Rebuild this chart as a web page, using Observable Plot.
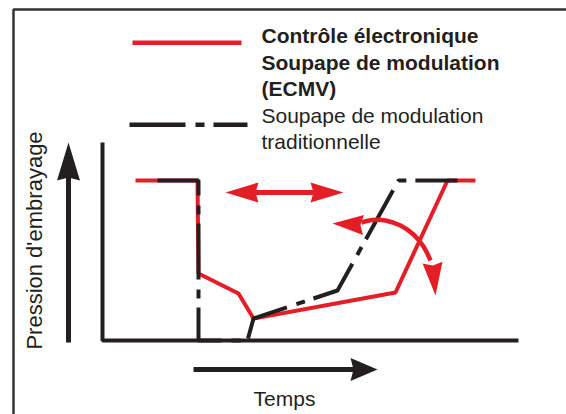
<!DOCTYPE html>
<html>
<head>
<meta charset="utf-8">
<script src="https://cdn.jsdelivr.net/npm/d3@7"></script>
<script src="https://cdn.jsdelivr.net/npm/@observablehq/plot@0.6"></script>
<style>
  html, body { margin: 0; padding: 0; background: #fff; }
  #chart svg { display: block; }
</style>
</head>
<body>
<div id="chart"></div>
<script>
// ---- Data (time t, clutch pressure p; origin at the axes corner) ----
const ecmvT = [33, 95, 96, 136, 151, 293, 345, 373];
const ecmvP = [160, 160, 67, 47, 22, 48, 160, 160];
const tradT = [55, 96, 96, 145, 151, 235, 296, 355];
const tradP = [160, 160, 0, 0, 22, 50, 160, 160];

const legendBold = ["Contrôle électronique", "Soupape de modulation", "(ECMV)"];
const legendRegular = ["Soupape de modulation", "traditionnelle"];
const yLabel = "Pression d'embrayage";
const xLabel = "Temps";

// ---- Layout (diagram furniture) ----
const RED = "#e41e26";
const INK = "#231f20";
const axisT = [0, 0, 416];
const axisP = [198, 0, 0];
const frameT = [-89, -89, 480];
const frameP = [-90, 331, 331];
const legendRedT = [30, 139], legendRedP = 297.7;
const legendBlkT = [27, 145], legendBlkP = 215.7;
const legendTextT = 159;
const legendBaselines = [298, 271, 244.5, 218, 191.5];
const dashPattern = "56,10,9,9";

// arc of the curved arrow
const arcT = [259, 270, 283, 298, 311, 321, 328];
const arcP = [118, 120.5, 120, 115, 106, 94, 80];

// arrows: tip, direction, head length, half width, shaft start
const arrows = [
  {id: "y", tip: [-34, 198], dir: [0, 1], len: 38, half: 11.5, from: [-34, -2], w: 5, color: INK},
  {id: "x", tip: [275, -29], dir: [1, 0], len: 27, half: 11.5, from: [91, -29], w: 5, color: INK},
  {id: "dl", tip: [123, 148], dir: [-1, 0], len: 33, half: 10, from: [200, 148], w: 5, color: RED},
  {id: "dr", tip: [241, 148], dir: [1, 0], len: 33, half: 10, from: [150, 148], w: 5, color: RED},
  {id: "cl", tip: [230, 117], dir: [-1, 0.05], len: 31, half: 10, from: null, color: RED},
  {id: "cd", tip: [333, 45], dir: [0.09, -1], len: 33, half: 10, from: null, color: RED}
];

function headPoly(a) {
  const n = Math.hypot(a.dir[0], a.dir[1]);
  const dx = a.dir[0] / n, dy = a.dir[1] / n;
  const bx = a.tip[0] - dx * a.len, by = a.tip[1] - dy * a.len;
  const px = -dy, py = dx;
  const notch = 3;
  return [
    {id: a.id, t: a.tip[0], p: a.tip[1], c: a.color},
    {id: a.id, t: bx + px * a.half, p: by + py * a.half, c: a.color},
    {id: a.id, t: bx + dx * notch, p: by + dy * notch, c: a.color},
    {id: a.id, t: bx - px * a.half, p: by - py * a.half, c: a.color}
  ];
}
const heads = arrows.flatMap(headPoly);
const shafts = arrows.filter(a => a.from).flatMap(a => {
  const n = Math.hypot(a.dir[0], a.dir[1]);
  const endT = a.tip[0] - a.dir[0] / n * (a.len - 4);
  const endP = a.tip[1] - a.dir[1] / n * (a.len - 4);
  return [
    {id: a.id, t: a.from[0], p: a.from[1], c: a.color, w: a.w},
    {id: a.id, t: endT, p: endP, c: a.color, w: a.w}
  ];
});

const zip = (T, P) => T.map((t, i) => ({t, p: P[i]}));
const ecmv = zip(ecmvT, ecmvP);
const trad = zip(tradT, tradP);
const axis = zip(axisT, axisP);
const frame = zip(frameT, frameP);
const arc = zip(arcT, arcP);
const legRed = legendRedT.map(t => ({t, p: legendRedP}));
const legBlk = legendBlkT.map(t => ({t, p: legendBlkP}));
const legTexts = [...legendBold, ...legendRegular].map((s, i) => ({
  s, t: legendTextT, p: legendBaselines[i], bold: i < legendBold.length
}));

const lineOpts = {x: "t", y: "p", strokeLinecap: "butt", strokeLinejoin: "miter"};

const chart = Plot.plot({
  width: 566,
  height: 414,
  margin: 0,
  x: {domain: [-102, 464], range: [0, 566], axis: null},
  y: {domain: [-74, 340], range: [414, 0], axis: null},
  style: {fontFamily: "'Liberation Sans', Arial, Helvetica, sans-serif", background: "#fff", color: INK},
  marks: [
    // outer frame
    Plot.line(frame, {...lineOpts, stroke: "#333", strokeWidth: 2.5}),
    // axes
    Plot.line(axis, {...lineOpts, stroke: INK, strokeWidth: 4}),
    // curves
    Plot.line(ecmv, {...lineOpts, stroke: RED, strokeWidth: 4}),
    Plot.line(trad, {...lineOpts, stroke: INK, strokeWidth: 4, strokeDasharray: dashPattern}),
    // curved arrow arc
    Plot.line(arc, {...lineOpts, stroke: RED, strokeWidth: 4.5, curve: "catmull-rom"}),
    // arrow shafts
    Plot.line(shafts, {...lineOpts, z: "id", stroke: "c", strokeWidth: "w"}),
    // arrow heads
    Plot.line(heads, {x: "t", y: "p", z: "id", fill: "c", stroke: "none"}),
    // legend swatches
    Plot.line(legRed, {...lineOpts, stroke: RED, strokeWidth: 4.5}),
    Plot.line(legBlk, {...lineOpts, stroke: INK, strokeWidth: 4.5, strokeDasharray: dashPattern}),
    // legend text
    Plot.text(legTexts.filter(d => d.bold), {x: "t", y: "p", text: "s", textAnchor: "start", lineAnchor: "bottom", fontSize: 21, fontWeight: "bold", fill: INK}),
    Plot.text(legTexts.filter(d => !d.bold), {x: "t", y: "p", text: "s", textAnchor: "start", lineAnchor: "bottom", fontSize: 21, fill: INK}),
    // axis labels
    Plot.text([yLabel], {x: () => -61, y: () => 100, text: d => d, rotate: -90, textAnchor: "middle", lineAnchor: "bottom", fontSize: 22, fill: INK}),
    Plot.text([xLabel], {x: () => 182, y: () => -65, text: d => d, textAnchor: "middle", lineAnchor: "bottom", fontSize: 21, fill: INK})
  ]
});
document.getElementById("chart").appendChild(chart);
</script>
</body>
</html>
